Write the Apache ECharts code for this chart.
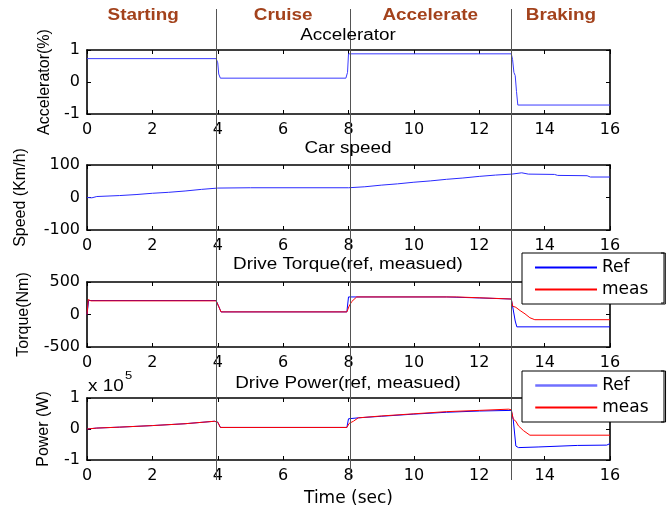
<!DOCTYPE html>
<html><head><meta charset="utf-8">
<script src="https://cdn.jsdelivr.net/npm/echarts/dist/echarts.min.js"></script>
<style>html,body{margin:0;padding:0;background:#fff}#c{width:668px;height:508px}</style>
</head><body><div id="c"></div>
<script>
// ---------- data ----------
const phaseNames = ['Starting', 'Cruise', 'Accelerate', 'Braking'];
const phaseCenters = [1.72, 6, 10.5, 14.5];
const phaseBounds = [3.95, 8.05, 12.98];
const xTicks = { min: 0, max: 16, interval: 2 };

const plotTitles = ['Accelerator', 'Car speed', 'Drive Torque(ref, measued)', 'Drive Power(ref, measued)'];
const yNames = ['Accelerator(%)', 'Speed (Km/h)', 'Torque(Nm)', 'Power (W)'];
const yRanges = [[-1, 1, 1], [-100, 100, 100], [-500, 500, 500], [-100000, 100000, 100000]];

const accelerator = [[0,0.73],[3.95,0.73],[4.0,0.6],[4.03,0.25],[4.08,0.12],[7.92,0.12],[7.97,0.3],[8.0,0.88],[12.98,0.88],[13.02,0.7],[13.06,0.3],[13.1,0.2],[13.14,-0.3],[13.18,-0.72],[16,-0.72]];

const carSpeed = [[0,0],[0.15,-1],[0.3,3],[1,6],[1.5,9],[2,13],[2.5,16],[3,20],[3.5,25],[4,29],[5,30],[8,30],[8.5,33],[9,38],[9.5,42],[10,47],[10.5,51],[11,56],[11.5,60],[12,65],[12.5,69],[13,72],[13.3,76],[13.5,72],[14.3,71],[14.4,68],[15.3,67],[15.4,63],[16,63]];

const torqueRef = [[0,0],[0.05,215],[3.95,215],[4.0,200],[4.05,100],[4.1,40],[7.95,40],[8.0,270],[11,270],[11.05,255],[12,255],[12.05,238],[12.98,238],[13.03,100],[13.1,-100],[13.15,-190],[16,-190]];
const torqueMeas = [[0,0],[0.04,230],[0.12,210],[3.95,210],[4.0,200],[4.05,100],[4.1,40],[7.95,40],[8.02,130],[8.1,200],[8.25,270],[11.3,270],[11.35,258],[12.4,250],[12.45,238],[12.98,238],[13.02,130],[13.12,110],[13.25,60],[13.4,10],[13.55,-50],[13.7,-80],[16,-80]];

const powerRef = [[0,0],[0.3,3000],[1,6000],[2,11000],[3,17000],[3.9,25000],[4.0,22000],[4.08,5000],[7.95,5000],[8.0,33000],[8.3,36000],[9,41000],[10,48000],[11,54000],[12,58000],[12.98,60000],[13.04,30000],[13.12,-55000],[13.2,-60000],[13.8,-58000],[13.85,-55000],[15,-53000],[15.9,-52000],[16,-47000]];
const powerMeas = [[0,0],[0.3,3000],[1,6000],[2,11000],[3,17000],[3.9,25000],[4.0,22000],[4.08,5000],[7.95,5000],[8.02,18000],[8.15,25000],[8.3,36000],[9,42000],[10,49000],[11,56000],[12,60000],[12.9,64000],[12.98,62000],[13.04,32000],[13.12,25000],[13.2,10000],[13.35,-5000],[13.55,-20000],[16,-20000]];

// ---------- layout / style ----------
const FONT = '"Liberation Sans", Arial, sans-serif';
const WIDE = '"DejaVu Sans", "Liberation Sans", sans-serif';
const SX = 1.18; // horizontal stretch of the original figure's text
const gridTops = [50, 165, 282, 398];
const gridHeights = [64, 65, 65, 65];
const nameGaps = [34, 58, 55, 35];
const BLUE = '#0000ff', RED = '#ff0000';

const chart = echarts.init(document.getElementById('c'), null, { renderer: 'canvas' });

const grid = gridTops.map((t, i) => ({ left: 87, width: 523, top: t, height: gridHeights[i], show: false }));
const axLine = { show: true, onZero: false, lineStyle: { color: '#000', width: 1.6 } };
const tick = { show: true, inside: true, length: 4, lineStyle: { color: '#000', width: 1 } };
const xAxis = [], yAxis = [];
for (let i = 0; i < 4; i++) {
  xAxis.push({ type: 'value', gridIndex: i, position: 'bottom', min: xTicks.min, max: xTicks.max, interval: xTicks.interval,
    axisLine: axLine, axisTick: tick, splitLine: { show: false },
    axisLabel: { color: '#000', fontSize: 16, fontFamily: WIDE, margin: 8 },
    name: i === 3 ? 'Time (sec)' : '', nameLocation: 'middle', nameGap: 30,
    nameTextStyle: { color: '#000', fontSize: 17, fontFamily: WIDE } });
}
for (let i = 0; i < 4; i++) {
  xAxis.push({ type: 'value', gridIndex: i, position: 'top', min: xTicks.min, max: xTicks.max, interval: xTicks.interval,
    axisLine: axLine, axisTick: tick, splitLine: { show: false }, axisLabel: { show: false } });
}
for (let i = 0; i < 4; i++) {
  const [mn, mx, iv] = yRanges[i];
  yAxis.push({ type: 'value', gridIndex: i, position: 'left', min: mn, max: mx, interval: iv,
    axisLine: axLine, axisTick: tick, splitLine: { show: false },
    axisLabel: { color: '#000', fontSize: 16, fontFamily: WIDE, margin: 7,
      formatter: i === 3 ? (v => String(v / 100000)) : (v => String(v)) },
    name: yNames[i], nameLocation: 'middle', nameRotate: 90, nameGap: nameGaps[i],
    nameTextStyle: { color: '#000', fontSize: 16, fontFamily: FONT } });
}
for (let i = 0; i < 4; i++) {
  const [mn, mx, iv] = yRanges[i];
  yAxis.push({ type: 'value', gridIndex: i, position: 'right', min: mn, max: mx, interval: iv,
    axisLine: axLine, axisTick: tick, splitLine: { show: false }, axisLabel: { show: false } });
}

function line(name, data, idx, color, width) {
  return { name, type: 'line', data, xAxisIndex: idx, yAxisIndex: idx, symbol: 'none', showSymbol: false,
    lineStyle: { color, width: width || 1 }, itemStyle: { color }, animation: false };
}

const series = [
  line('Accelerator', accelerator, 0, '#3a3aff'),
  line('Speed', carSpeed, 1, '#2a2aff'),
  line('Ref', torqueRef, 2, BLUE),
  line('meas', torqueMeas, 2, RED),
  line('Ref', powerRef, 3, BLUE),
  line('meas', powerMeas, 3, RED)
];

const legendBase = { orient: 'vertical', left: 522, itemWidth: 62, itemHeight: 14, itemGap: 5,
  padding: [6, 17, 6, 12], backgroundColor: '#fff', borderColor: '#000', borderWidth: 1,
  itemStyle: { opacity: 0 },
  textStyle: { fontSize: 17, fontFamily: WIDE, color: '#000' }, selectedMode: false, z: 10 };
const legend = [
  Object.assign({}, legendBase, { top: 253, data: ['Ref', 'meas'] }),
  Object.assign({}, legendBase, { top: 371, data: [
    { name: 'Ref', lineStyle: { width: 2.5, color: '#7070ff' } }, 'meas'] })
];

const T = (text, x, y, font, fill, align) => ({
  type: 'text', x, y, z: 20, scaleX: SX,
  style: { text, font, fill: fill || '#000', align: align || 'center', verticalAlign: 'middle' }
});
const fixedTexts = plotTitles.map((t, i) => T(t, 348, [36, 149, 265, 384][i], '16px ' + FONT))
  .concat([T('x 10', 88, 387, '16px ' + FONT, '#000', 'left'), T('5', 125, 376, '11px ' + FONT, '#000', 'left')]);

chart.setOption({ animation: false, grid, xAxis, yAxis, series, legend, graphic: fixedTexts });

// phase boundaries and phase labels positioned via the x scale
const px = v => chart.convertToPixel({ xAxisIndex: 0 }, v);
const extra = [];
phaseBounds.forEach(b => {
  const x = Math.round(px(b)) + 0.5;
  extra.push({ type: 'line', z: 15, shape: { x1: x, y1: 9, x2: x, y2: 480 }, style: { stroke: '#555', lineWidth: 1 } });
});
phaseNames.forEach((n, i) => {
  extra.push(T(n, px(phaseCenters[i]), 16, 'bold 16px ' + FONT, '#a3421c'));
});
// small legend-shadow brackets seen at the right of each legend box
[[253, 303], [371, 422]].forEach(([a, b]) => {
  extra.push({ type: 'polyline', z: 15, shape: { points: [[661, a], [664, a], [664, b], [661, b]] }, style: { stroke: '#000', lineWidth: 1, fill: null } });
});
chart.setOption({ graphic: fixedTexts.concat(extra) });
</script></body></html>
